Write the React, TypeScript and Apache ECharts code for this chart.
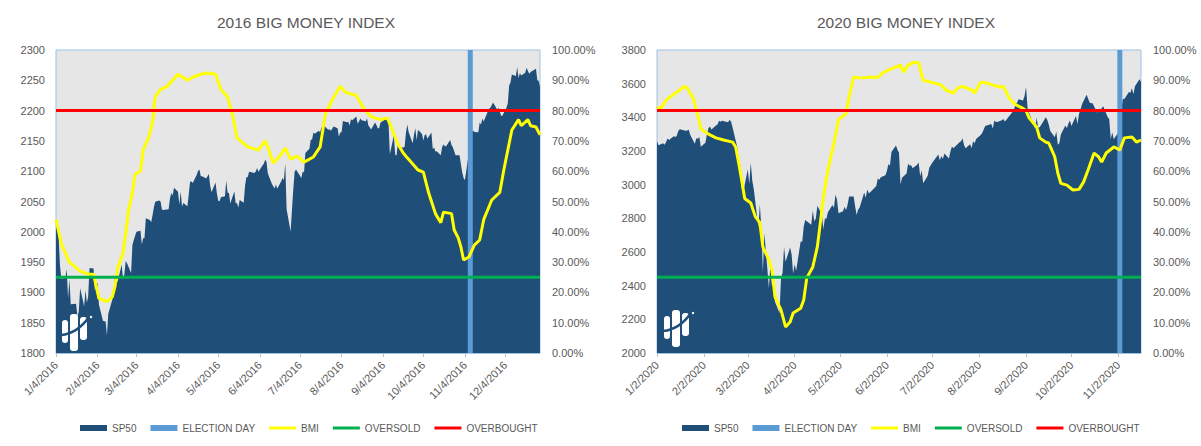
import React, { useEffect, useRef } from "react";
import * as echarts from "echarts";

// ---------- DATA ----------
const titles = ["2016 BIG MONEY INDEX", "2020 BIG MONEY INDEX"];
const legendNames = ["SP50", "ELECTION DAY", "BMI", "OVERSOLD", "OVERBOUGHT"];

const range2016 = ["1/4/2016", "12/30/2016"];
const range2020 = ["1/2/2020", "11/17/2020"];
const election2016 = "11/8/2016";
const election2020 = "11/3/2020";
const labelDay2016 = "4";
const labelDay2020 = "2";

const overboughtLevel = 80;
const oversoldLevel = 25;

const spAxis2016 = [1800, 2300, 50];
const spAxis2020 = [2000, 3800, 200];
const bmiAxis = [0, 100, 10];

const sp2016: [string, number][] = [
  ["1/4", 2012.7], ["1/5", 2016.7], ["1/6", 1990.3], ["1/7", 1943.1], ["1/8", 1922.0], ["1/11", 1923.7], ["1/12", 1938.7], ["1/13", 1890.3], ["1/14", 1921.8], ["1/15", 1880.3], ["1/19", 1881.3], ["1/20", 1859.3], ["1/21", 1869.0], ["1/22", 1906.9], ["1/25", 1877.1], ["1/26", 1903.6], ["1/27", 1883.0], ["1/28", 1893.4], ["1/29", 1940.2],
  ["2/1", 1939.4], ["2/2", 1903.0], ["2/3", 1912.5], ["2/4", 1915.5], ["2/5", 1880.1], ["2/8", 1853.4], ["2/9", 1852.2], ["2/10", 1851.9], ["2/11", 1829.1], ["2/12", 1864.8], ["2/16", 1895.6], ["2/17", 1926.8], ["2/18", 1917.8], ["2/19", 1917.8], ["2/22", 1945.5], ["2/23", 1921.3], ["2/24", 1929.8], ["2/25", 1951.7], ["2/26", 1948.1], ["2/29", 1932.2],
  ["3/1", 1978.4], ["3/2", 1986.5], ["3/3", 1993.4], ["3/4", 2000.0], ["3/7", 2001.8], ["3/8", 1979.3], ["3/9", 1989.3], ["3/10", 1989.6], ["3/11", 2022.2], ["3/14", 2019.6], ["3/15", 2015.9], ["3/16", 2027.2], ["3/17", 2040.6], ["3/18", 2049.6], ["3/21", 2051.6], ["3/22", 2049.8], ["3/23", 2036.7], ["3/24", 2035.9], ["3/28", 2037.1], ["3/29", 2055.0], ["3/30", 2064.0], ["3/31", 2059.7],
  ["4/1", 2072.8], ["4/4", 2066.1], ["4/5", 2045.2], ["4/6", 2066.7], ["4/7", 2041.9], ["4/8", 2047.6], ["4/11", 2042.0], ["4/12", 2061.7], ["4/13", 2082.4], ["4/14", 2082.8], ["4/15", 2080.7], ["4/18", 2094.3], ["4/19", 2100.8], ["4/20", 2102.4], ["4/21", 2091.5], ["4/22", 2091.6], ["4/25", 2087.8], ["4/26", 2091.7], ["4/27", 2095.2], ["4/28", 2075.8], ["4/29", 2065.3],
  ["5/2", 2081.4], ["5/3", 2063.4], ["5/4", 2051.1], ["5/5", 2050.6], ["5/6", 2057.1], ["5/9", 2058.7], ["5/10", 2084.4], ["5/11", 2064.5], ["5/12", 2064.1], ["5/13", 2046.6], ["5/16", 2066.7], ["5/17", 2047.2], ["5/18", 2047.6], ["5/19", 2040.0], ["5/20", 2052.3], ["5/23", 2048.0], ["5/24", 2076.1], ["5/25", 2090.5], ["5/26", 2090.1], ["5/27", 2099.1], ["5/31", 2097.0],
  ["6/1", 2099.3], ["6/2", 2105.3], ["6/3", 2099.1], ["6/6", 2109.4], ["6/7", 2112.1], ["6/8", 2119.1], ["6/9", 2115.5], ["6/10", 2096.1], ["6/13", 2079.1], ["6/14", 2075.3], ["6/15", 2071.5], ["6/16", 2078.0], ["6/17", 2071.2], ["6/20", 2083.3], ["6/21", 2088.9], ["6/22", 2085.5], ["6/23", 2113.3], ["6/24", 2037.4], ["6/27", 2000.5], ["6/28", 2036.1], ["6/29", 2070.8], ["6/30", 2098.9],
  ["7/1", 2103.0], ["7/5", 2088.6], ["7/6", 2099.7], ["7/7", 2097.9], ["7/8", 2129.9], ["7/11", 2137.2], ["7/12", 2152.1], ["7/13", 2152.4], ["7/14", 2163.8], ["7/15", 2161.7], ["7/18", 2166.9], ["7/19", 2163.8], ["7/20", 2173.0], ["7/21", 2165.2], ["7/22", 2175.0], ["7/25", 2168.5], ["7/26", 2169.2], ["7/27", 2166.6], ["7/28", 2170.1], ["7/29", 2173.6],
  ["8/1", 2170.8], ["8/2", 2157.0], ["8/3", 2163.8], ["8/4", 2164.3], ["8/5", 2182.9], ["8/8", 2180.9], ["8/9", 2181.7], ["8/10", 2175.5], ["8/11", 2185.8], ["8/12", 2184.1], ["8/15", 2190.2], ["8/16", 2178.2], ["8/17", 2182.2], ["8/18", 2187.0], ["8/19", 2183.9], ["8/22", 2182.6], ["8/23", 2186.9], ["8/24", 2175.4], ["8/25", 2172.5], ["8/26", 2169.0], ["8/29", 2180.4], ["8/30", 2176.1], ["8/31", 2171.0],
  ["9/1", 2170.9], ["9/2", 2180.0], ["9/6", 2186.5], ["9/7", 2186.2], ["9/8", 2181.3], ["9/9", 2127.8], ["9/12", 2159.0], ["9/13", 2127.0], ["9/14", 2125.8], ["9/15", 2147.3], ["9/16", 2139.2], ["9/19", 2139.1], ["9/20", 2139.8], ["9/21", 2163.1], ["9/22", 2177.2], ["9/23", 2164.7], ["9/26", 2146.1], ["9/27", 2159.9], ["9/28", 2171.4], ["9/29", 2151.1], ["9/30", 2168.3],
  ["10/3", 2161.2], ["10/4", 2150.5], ["10/5", 2159.7], ["10/6", 2160.8], ["10/7", 2153.7], ["10/10", 2163.7], ["10/11", 2136.7], ["10/12", 2139.2], ["10/13", 2132.6], ["10/14", 2133.0], ["10/17", 2126.5], ["10/18", 2139.6], ["10/19", 2144.3], ["10/20", 2141.3], ["10/21", 2141.2], ["10/24", 2151.3], ["10/25", 2143.2], ["10/26", 2139.4], ["10/27", 2133.0], ["10/28", 2126.4], ["10/31", 2126.2],
  ["11/1", 2111.7], ["11/2", 2097.9], ["11/3", 2088.7], ["11/4", 2085.2], ["11/7", 2131.5], ["11/8", 2139.6], ["11/9", 2163.3], ["11/10", 2167.5], ["11/11", 2164.5], ["11/14", 2164.2], ["11/15", 2180.4], ["11/16", 2176.9], ["11/17", 2187.1], ["11/18", 2181.9], ["11/21", 2198.2], ["11/22", 2202.9], ["11/23", 2204.7], ["11/25", 2213.4], ["11/28", 2201.7], ["11/29", 2204.7], ["11/30", 2198.8],
  ["12/1", 2191.1], ["12/2", 2192.0], ["12/5", 2204.7], ["12/6", 2212.2], ["12/7", 2241.4], ["12/8", 2246.2], ["12/9", 2259.5], ["12/12", 2257.0], ["12/13", 2271.7], ["12/14", 2253.3], ["12/15", 2262.0], ["12/16", 2258.1], ["12/19", 2262.5], ["12/20", 2270.8], ["12/21", 2265.2], ["12/22", 2261.0], ["12/23", 2263.8], ["12/27", 2268.9], ["12/28", 2249.9], ["12/29", 2249.3], ["12/30", 2238.8],
];

const bmi2016: [string, number][] = [
  ["1/4", 44], ["1/8", 36], ["1/11", 33], ["1/14", 30], ["1/22", 27], ["1/28", 26], ["2/1", 26], ["2/3", 22], ["2/5", 18], ["2/11", 17], ["2/15", 18.5], ["2/17", 22], ["2/19", 28], ["2/23", 33], ["2/26", 43], ["2/27", 47],
  ["3/1", 53], ["3/3", 59], ["3/7", 60], ["3/9", 67], ["3/13", 71], ["3/16", 76], ["3/18", 84.5], ["3/22", 87], ["3/27", 88], ["3/31", 90], ["4/4", 92], ["4/11", 90], ["4/15", 91], ["4/21", 92], ["4/26", 92.4],
  ["5/2", 92], ["5/6", 87], ["5/11", 84.5], ["5/15", 78], ["5/18", 71], ["5/26", 68], ["6/3", 67], ["6/8", 70], ["6/10", 68], ["6/14", 62.7], ["6/19", 65], ["6/23", 67.6], ["6/27", 64],
  ["7/2", 65], ["7/7", 63], ["7/14", 64.7], ["7/19", 68], ["7/23", 79], ["7/28", 83.5], ["8/3", 88], ["8/7", 86], ["8/15", 85], ["8/20", 81], ["8/26", 78], ["9/2", 77], ["9/7", 77.6], ["9/10", 74.6], ["9/15", 69], ["9/19", 66], ["9/22", 64.4], ["9/30", 60.4],
  ["10/4", 59.7], ["10/8", 52.8], ["10/13", 46], ["10/17", 43], ["10/19", 46.5], ["10/25", 46], ["10/27", 40.6], ["10/30", 38], ["11/1", 35], ["11/3", 30.7], ["11/7", 31.7], ["11/11", 35.6], ["11/15", 37.3], ["11/18", 44], ["11/24", 50.5], ["11/30", 53],
  ["12/3", 60.4], ["12/9", 73.6], ["12/14", 77], ["12/16", 75], ["12/21", 77], ["12/23", 75], ["12/27", 74.6], ["12/30", 72],
];

const sp2020: [string, number][] = [
  ["1/2", 3257.9], ["1/3", 3234.9], ["1/6", 3246.3], ["1/7", 3237.2], ["1/8", 3253.1], ["1/9", 3274.7], ["1/10", 3265.4], ["1/13", 3288.1], ["1/14", 3283.2], ["1/15", 3289.3], ["1/16", 3316.8], ["1/17", 3329.6], ["1/21", 3320.8], ["1/22", 3321.8], ["1/23", 3325.5], ["1/24", 3295.5], ["1/27", 3243.6], ["1/28", 3276.2], ["1/29", 3273.4], ["1/30", 3283.7], ["1/31", 3225.5],
  ["2/3", 3248.9], ["2/4", 3297.6], ["2/5", 3334.7], ["2/6", 3345.8], ["2/7", 3327.7], ["2/10", 3352.1], ["2/11", 3357.8], ["2/12", 3379.5], ["2/13", 3373.9], ["2/14", 3380.2], ["2/18", 3370.3], ["2/19", 3386.2], ["2/20", 3373.2], ["2/21", 3337.8], ["2/24", 3225.9], ["2/25", 3128.2], ["2/26", 3116.4], ["2/27", 2978.8], ["2/28", 2954.2],
  ["3/2", 3090.2], ["3/3", 3003.4], ["3/4", 3130.1], ["3/5", 3023.9], ["3/6", 2972.4], ["3/9", 2746.6], ["3/10", 2882.2], ["3/11", 2741.4], ["3/12", 2480.6], ["3/13", 2711.0], ["3/16", 2386.1], ["3/17", 2529.2], ["3/18", 2398.1], ["3/19", 2409.4], ["3/20", 2304.9], ["3/23", 2237.4], ["3/24", 2447.3], ["3/25", 2475.6], ["3/26", 2630.1], ["3/27", 2541.5], ["3/30", 2626.7], ["3/31", 2584.6],
  ["4/1", 2470.5], ["4/2", 2526.9], ["4/3", 2488.7], ["4/6", 2663.7], ["4/7", 2659.4], ["4/8", 2750.0], ["4/9", 2789.8], ["4/13", 2761.6], ["4/14", 2846.1], ["4/15", 2783.4], ["4/16", 2799.6], ["4/17", 2874.6], ["4/20", 2823.2], ["4/21", 2736.6], ["4/22", 2799.3], ["4/23", 2797.8], ["4/24", 2836.7], ["4/27", 2878.5], ["4/28", 2863.4], ["4/29", 2939.5], ["4/30", 2912.4],
  ["5/1", 2830.7], ["5/4", 2842.7], ["5/5", 2868.4], ["5/6", 2848.4], ["5/7", 2881.2], ["5/8", 2929.8], ["5/11", 2930.3], ["5/12", 2870.1], ["5/13", 2820.0], ["5/14", 2852.5], ["5/15", 2863.7], ["5/18", 2953.9], ["5/19", 2922.9], ["5/20", 2971.6], ["5/21", 2948.5], ["5/22", 2955.5], ["5/26", 2991.8], ["5/27", 3036.1], ["5/28", 3029.7], ["5/29", 3044.3],
  ["6/1", 3055.7], ["6/2", 3080.8], ["6/3", 3122.9], ["6/4", 3112.4], ["6/5", 3193.9], ["6/8", 3232.4], ["6/9", 3207.2], ["6/10", 3190.1], ["6/11", 3002.1], ["6/12", 3041.3], ["6/15", 3066.6], ["6/16", 3124.7], ["6/17", 3113.5], ["6/18", 3115.3], ["6/19", 3097.7], ["6/22", 3117.9], ["6/23", 3131.3], ["6/24", 3050.3], ["6/25", 3083.8], ["6/26", 3009.1], ["6/29", 3053.2], ["6/30", 3100.3],
  ["7/1", 3115.9], ["7/2", 3130.0], ["7/6", 3179.7], ["7/7", 3145.3], ["7/8", 3169.9], ["7/9", 3152.1], ["7/10", 3185.0], ["7/13", 3155.2], ["7/14", 3197.5], ["7/15", 3226.6], ["7/16", 3215.6], ["7/17", 3224.7], ["7/20", 3251.8], ["7/21", 3257.3], ["7/22", 3276.0], ["7/23", 3235.7], ["7/24", 3215.6], ["7/27", 3239.4], ["7/28", 3218.4], ["7/29", 3258.4], ["7/30", 3246.2], ["7/31", 3271.1],
  ["8/3", 3294.6], ["8/4", 3306.5], ["8/5", 3327.8], ["8/6", 3349.2], ["8/7", 3351.3], ["8/10", 3360.5], ["8/11", 3333.7], ["8/12", 3380.4], ["8/13", 3373.4], ["8/14", 3372.9], ["8/17", 3382.0], ["8/18", 3389.8], ["8/19", 3374.9], ["8/20", 3385.5], ["8/21", 3397.2], ["8/24", 3431.3], ["8/25", 3443.6], ["8/26", 3478.7], ["8/27", 3484.6], ["8/28", 3508.0], ["8/31", 3500.3],
  ["9/1", 3526.7], ["9/2", 3580.8], ["9/3", 3455.1], ["9/4", 3427.0], ["9/8", 3331.8], ["9/9", 3399.0], ["9/10", 3339.2], ["9/11", 3341.0], ["9/14", 3383.5], ["9/15", 3401.2], ["9/16", 3385.5], ["9/17", 3357.0], ["9/18", 3319.5], ["9/21", 3281.1], ["9/22", 3315.6], ["9/23", 3236.9], ["9/24", 3246.6], ["9/25", 3298.5], ["9/28", 3351.6], ["9/29", 3335.5], ["9/30", 3363.0],
  ["10/1", 3380.8], ["10/2", 3348.4], ["10/5", 3408.6], ["10/6", 3361.0], ["10/7", 3419.4], ["10/8", 3446.8], ["10/9", 3477.1], ["10/12", 3534.2], ["10/13", 3511.9], ["10/14", 3488.7], ["10/15", 3483.3], ["10/16", 3483.8], ["10/19", 3426.9], ["10/20", 3443.1], ["10/21", 3435.6], ["10/22", 3453.5], ["10/23", 3465.4], ["10/26", 3401.0], ["10/27", 3390.7], ["10/28", 3271.0], ["10/29", 3310.1], ["10/30", 3270.0],
  ["11/2", 3310.2], ["11/3", 3369.2], ["11/4", 3443.4], ["11/5", 3510.5], ["11/6", 3509.4], ["11/9", 3550.5], ["11/10", 3545.5], ["11/11", 3572.7], ["11/12", 3537.0], ["11/13", 3585.2], ["11/16", 3626.9], ["11/17", 3609.5],
];

const bmi2020: [string, number][] = [
  ["1/2", 81], ["1/5", 81], ["1/8", 83.5], ["1/12", 85], ["1/17", 86.8], ["1/20", 88], ["1/22", 87.5], ["1/26", 84], ["1/29", 78.5], ["1/31", 74],
  ["2/4", 72.6], ["2/6", 72], ["2/10", 71], ["2/15", 70.3], ["2/21", 69.6], ["2/23", 68], ["2/25", 62.7], ["2/27", 57], ["2/29", 51],
  ["3/4", 49.5], ["3/7", 45], ["3/10", 43], ["3/12", 35], ["3/16", 30.7], ["3/18", 27.4], ["3/20", 18.5], ["3/24", 14.2], ["3/27", 8.6], ["3/30", 10.2],
  ["4/1", 13.2], ["4/6", 14.8], ["4/8", 17.5], ["4/10", 24.7], ["4/14", 28.4], ["4/17", 35], ["4/19", 43], ["4/21", 51.5], ["4/24", 60.4], ["4/28", 69.3],
  ["5/1", 77], ["5/6", 79], ["5/8", 84.5], ["5/11", 91], ["5/16", 90.8], ["5/22", 91], ["5/27", 91], ["5/31", 92.7],
  ["6/6", 94], ["6/11", 95], ["6/13", 92.7], ["6/16", 95], ["6/20", 96], ["6/23", 95.7], ["6/26", 90],
  ["7/1", 89.4], ["7/8", 88.4], ["7/11", 86.8], ["7/16", 85.8], ["7/19", 87.5], ["7/22", 88], ["7/28", 86.8], ["7/30", 85.8],
  ["8/3", 89.4], ["8/8", 89], ["8/11", 88.4], ["8/16", 87.8], ["8/18", 88], ["8/22", 84], ["8/26", 82], ["8/30", 81],
  ["9/2", 80], ["9/4", 77.6], ["9/9", 74.6], ["9/11", 71], ["9/15", 69.6], ["9/17", 69.3], ["9/21", 64.7], ["9/23", 59.4], ["9/25", 56], ["9/29", 55.4],
  ["10/3", 53.8], ["10/7", 54], ["10/10", 56.4], ["10/13", 60.4], ["10/17", 66], ["10/20", 64.7], ["10/22", 63], ["10/25", 66], ["10/30", 68],
  ["11/3", 67], ["11/6", 71], ["11/11", 71.3], ["11/14", 69.6], ["11/17", 70.3],
];

// ---------- STYLE ----------
const FONT = '"Liberation Sans", Arial, sans-serif';
const TEXT = "#595959";
const NAVY = "#1f4e79";
const ELECTION_BLUE = "#5b9bd5";
const YELLOW = "#ffff00";
const GREEN = "#00b050";
const RED = "#ff0000";
const PLOT_BG = "#e7e6e6";
const BORDER = "#9dc3e6";
const LINE_ICON = "path://M0,0h0.01v0.01h-0.01z M0,1.5h27v3h-27z M27,6h-0.01v-0.01h0.01z";

function dayList(from: string, to: string): string[] {
  const parse = (s: string) => {
    const [m, d, y] = s.split("/").map(Number);
    return Date.UTC(y, m - 1, d);
  };
  const out: string[] = [];
  for (let t = parse(from); t <= parse(to); t += 86400000) {
    const dt = new Date(t);
    out.push(`${dt.getUTCMonth() + 1}/${dt.getUTCDate()}/${dt.getUTCFullYear()}`);
  }
  return out;
}

function withYear(list: [string, number][], year: number) {
  return list.map(([md, v]) => [`${md}/${year}`, v]);
}

function logo(x0: number, y0: number) {
  const white = { fill: "#ffffff" };
  return [
    { type: "rect", z: 100, shape: { x: x0, y: y0 + 6, width: 6, height: 23, r: 3 }, style: white },
    { type: "rect", z: 100, shape: { x: x0 + 8, y: y0, width: 8, height: 37, r: 3 }, style: white },
    { type: "rect", z: 100, shape: { x: x0 + 18, y: y0 + 3, width: 7, height: 23, r: 3 }, style: white },
    {
      type: "bezierCurve",
      z: 101,
      shape: { x1: x0 - 1, y1: y0 + 21, cpx1: x0 + 10, cpy1: y0 + 20, cpx2: x0 + 20, cpy2: y0 + 13, x2: x0 + 27, y2: y0 + 3 },
      style: { stroke: NAVY, lineWidth: 2.5, fill: null },
    },
    { type: "circle", z: 101, shape: { cx: x0 + 29, cy: y0 + 3, r: 1.2 }, style: white },
  ];
}

export default function App() {
  const ref = useRef<HTMLDivElement>(null);

  useEffect(() => {
    if (!ref.current) return;
    const chart = echarts.init(ref.current, null, { renderer: "svg" });

    const cats = [dayList(range2016[0], range2016[1]), dayList(range2020[0], range2020[1])];
    const labelDays = [labelDay2016, labelDay2020];
    const spAxes = [spAxis2016, spAxis2020];
    const spData = [withYear(sp2016, 2016), withYear(sp2020, 2020)];
    const bmiData = [withYear(bmi2016, 2016), withYear(bmi2020, 2020)];
    const elections = [election2016, election2020];
    const gridLefts = [56, 657];
    const titleX = [306, 906];
    const legendLefts = [80, 682];

    const grids = gridLefts.map((l) => ({
      left: l,
      top: 50,
      width: 484,
      height: 303,
      show: true,
      backgroundColor: PLOT_BG,
      borderColor: BORDER,
      borderWidth: 1,
    }));

    const xAxes = cats.map((c, i) => {
      const pick = (_idx: number, val: string) => val.split("/")[1] === labelDays[i];
      return {
        type: "category",
        gridIndex: i,
        data: c,
        boundaryGap: false,
        axisLine: { show: true, lineStyle: { color: BORDER, width: 1 } },
        axisTick: { show: true, interval: pick, length: 4, lineStyle: { color: "#bfbfbf" } },
        axisLabel: { interval: pick, rotate: 45, margin: 10, color: TEXT, fontSize: 11, fontFamily: FONT },
        splitLine: { show: false },
      };
    });

    const yAxes: any[] = [];
    [0, 1].forEach((i) => {
      const [mn, mx, iv] = spAxes[i];
      yAxes.push({
        type: "value",
        gridIndex: i,
        position: "left",
        min: mn,
        max: mx,
        interval: iv,
        axisLine: { show: false },
        axisTick: { show: false },
        splitLine: { show: false },
        axisLabel: { margin: 11, color: TEXT, fontSize: 11, fontFamily: FONT, formatter: (v: number) => String(v) },
      });
      yAxes.push({
        type: "value",
        gridIndex: i,
        position: "right",
        min: bmiAxis[0],
        max: bmiAxis[1],
        interval: bmiAxis[2],
        axisLine: { show: false },
        axisTick: { show: false },
        splitLine: { show: false },
        axisLabel: {
          margin: 12,
          color: TEXT,
          fontSize: 11,
          fontFamily: FONT,
          formatter: (v: number) => `${v.toFixed(2)}%`,
        },
      });
    });

    const series: any[] = [];
    [0, 1].forEach((i) => {
      const c = cats[i];
      const first = c[0];
      const last = c[c.length - 1];
      series.push({
        name: "SP50",
        type: "line",
        xAxisIndex: i,
        yAxisIndex: i * 2,
        data: spData[i],
        symbol: "none",
        color: NAVY,
        lineStyle: { width: 0, color: NAVY },
        areaStyle: { color: NAVY, opacity: 1 },
        z: 1,
      });
      series.push({
        name: "ELECTION DAY",
        type: "bar",
        xAxisIndex: i,
        yAxisIndex: i * 2 + 1,
        data: [[elections[i], bmiAxis[1]]],
        barWidth: 5,
        color: ELECTION_BLUE,
        itemStyle: { color: ELECTION_BLUE },
        z: 2,
      });
      series.push({
        name: "BMI",
        type: "line",
        xAxisIndex: i,
        yAxisIndex: i * 2 + 1,
        data: bmiData[i],
        symbol: "none",
        color: YELLOW,
        lineStyle: { width: 3, color: YELLOW },
        z: 3,
      });
      series.push({
        name: "OVERSOLD",
        type: "line",
        xAxisIndex: i,
        yAxisIndex: i * 2 + 1,
        data: [[first, oversoldLevel], [last, oversoldLevel]],
        symbol: "none",
        color: GREEN,
        lineStyle: { width: 3, color: GREEN },
        z: 4,
      });
      series.push({
        name: "OVERBOUGHT",
        type: "line",
        xAxisIndex: i,
        yAxisIndex: i * 2 + 1,
        data: [[first, overboughtLevel], [last, overboughtLevel]],
        symbol: "none",
        color: RED,
        lineStyle: { width: 3, color: RED },
        z: 5,
      });
    });

    const legendData = legendNames.map((n, k) => ({ name: n, icon: k < 2 ? "rect" : LINE_ICON }));
    const legends = legendLefts.map((l) => ({
      left: l,
      top: 423,
      padding: 0,
      itemWidth: 27,
      itemHeight: 6,
      itemGap: 14,
      selectedMode: false,
      itemStyle: { borderWidth: 0 },
      textStyle: { fontSize: 10, color: TEXT, fontFamily: FONT },
      data: legendData,
    }));

    const graphics: any[] = [
      ...titles.map((t, i) => ({
        type: "text",
        x: titleX[i],
        y: 22,
        z: 100,
        style: { text: t, align: "center", verticalAlign: "middle", fill: TEXT, font: `15.5px ${FONT}` },
      })),
      ...logo(62, 314),
      ...logo(664, 310),
    ];

    chart.setOption({
      animation: false,
      backgroundColor: "#ffffff",
      textStyle: { fontFamily: FONT },
      grid: grids,
      xAxis: xAxes,
      yAxis: yAxes,
      legend: legends,
      series,
      graphic: graphics,
    });

    return () => chart.dispose();
  }, []);

  return (
    <div
      ref={ref}
      style={{ position: "absolute", left: 0, top: 0, width: 1201, height: 446, background: "#fff" }}
    />
  );
}
